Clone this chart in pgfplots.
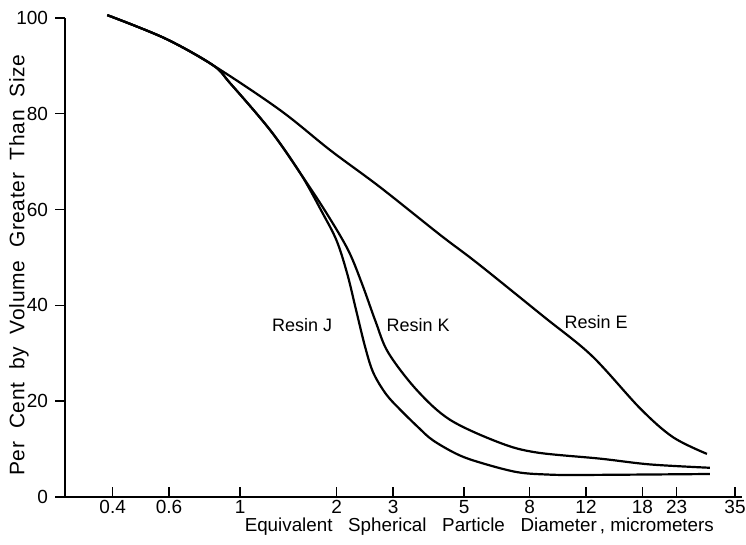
\documentclass[border=0pt]{standalone}
\usepackage{fontspec}
\setmainfont{Liberation Sans}
\usepackage{pgfplots}
\pgfplotsset{compat=1.18}
\begin{document}
\begin{tikzpicture}
\begin{axis}[
  name=ax,
  xmode=log,
  width=338.5pt, height=239.5pt, scale only axis,
  xmin=0.284, xmax=36.8, ymin=0, ymax=100,
  axis lines*=left,
  axis line style={line width=0.8pt},
  clip=false,
  xtick={0.4,0.6,1,2,3,5,8,12,18,23,35},
  xticklabels={0.4,0.6,1,2,3,5,8,12,18,23,35},
  ytick={0,20,40,60,80,100},
  /pgf/number format/assume math mode=true,
  tick style={black, line width=0.7pt},
  major tick length=5pt,
  xtick align=inside,
  ytick align=outside,
  minor tick num=0,
  ticklabel style={font=\fontsize{9.5}{11}\selectfont},
  xticklabel style={inner sep=1pt, yshift=-0.5pt},
  xlabel={Equivalent\ \ \ Spherical\ \ \ Particle\ \ \ Diameter\,,\ micrometers},
  ylabel={Per\ \ Cent\ \ by\ \ Volume\ \ Greater\ \ Than\ \ Size},
  xlabel style={at={(axis description cs:0.612,0)}, anchor=center, yshift=-15pt, inner sep=1pt, font=\fontsize{9.4}{11}\selectfont},
  ylabel style={at={(axis description cs:-0.068,0.484)}, anchor=center, inner sep=1pt, font=\fontsize{10.5}{12}\selectfont\addfontfeatures{LetterSpace=3}},
]
% Resin E
\addplot[black, line width=1.1pt, smooth, tension=0.55] coordinates {
(0.385,100.6) (0.58,95.8) (0.82,90.2) (1.33,80.8) (1.91,72.4) (2.73,64.7)
(4.21,54.7) (5.5,48.8) (8.8,37.8) (12.5,29.5) (17.7,18.5) (22.4,12.5) (28.6,9.0)
};
% Resin K
\addplot[black, line width=1.1pt, smooth, tension=0.55] coordinates {
(0.385,100.6) (0.58,95.8) (0.82,90.2) (0.93,86.4) (1.24,76.6) (1.54,67.6)
(1.85,59.5) (2.17,51.6) (2.40,44.5) (2.65,36.5) (2.9,30.1) (3.56,22.3) (4.52,16.1)
(6.47,11.3) (8.4,9.3) (13.3,8.0) (19.0,6.8) (29.2,6.1)
};
% Resin J
\addplot[black, line width=1.1pt, smooth, tension=0.55] coordinates {
(0.385,100.6) (0.58,95.8) (0.82,90.2) (0.93,86.4) (1.24,76.6) (1.54,67.6)
(1.8,59.5) (2.0,53.5) (2.16,46.5) (2.3,39) (2.45,31.5) (2.6,26) (2.85,21.5)
(3.15,18.3) (3.6,14.5) (4.0,11.8) (4.8,8.8) (5.73,7.0) (7.3,5.2) (9,4.7)
(11.7,4.6) (29.2,4.8)
};
\node[font=\fontsize{9}{11}\selectfont] at (axis cs:1.56,35.9) {Resin J};
\node[font=\fontsize{9}{11}\selectfont] at (axis cs:3.59,35.9) {Resin K};
\node[font=\fontsize{9}{11}\selectfont] at (axis cs:12.9,36.5) {Resin E};
\end{axis}
\pgfresetboundingbox
\path[use as bounding box] ([xshift=-32.5pt,yshift=-24pt]ax.south west) rectangle ([xshift=2pt,yshift=9pt]ax.north east);
\end{tikzpicture}
\end{document}
